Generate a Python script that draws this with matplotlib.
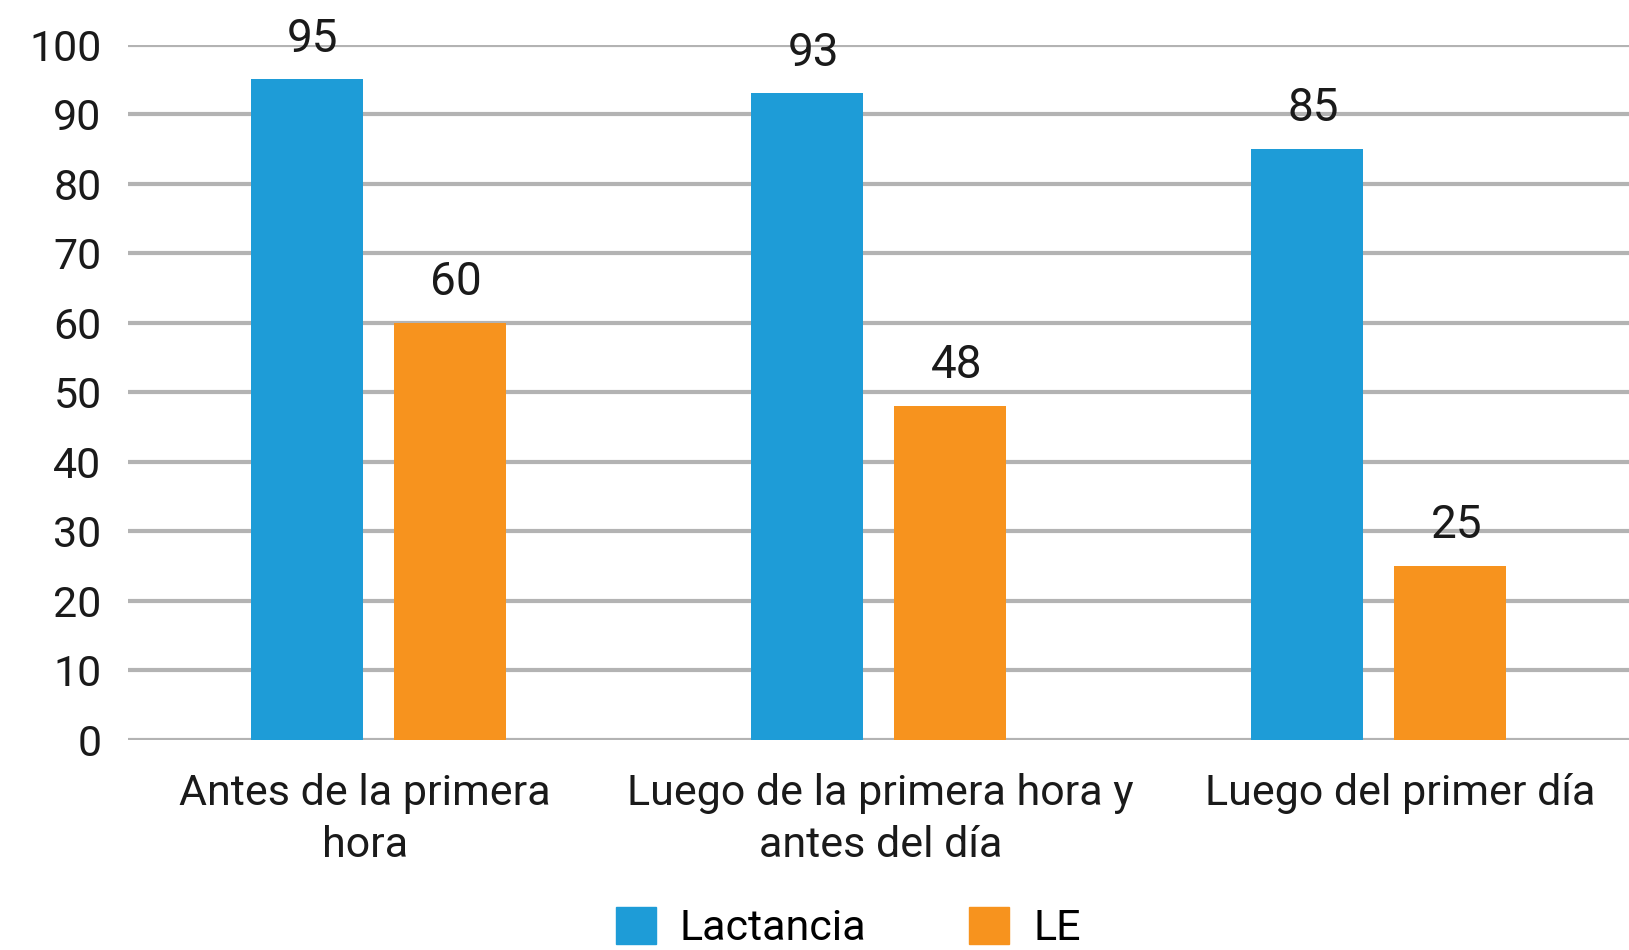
import matplotlib
matplotlib.use("Agg")
import matplotlib.pyplot as plt
import numpy as np
from matplotlib.patches import Patch
from matplotlib.transforms import ScaledTranslation

BLUE = "#1E9CD7"
ORANGE = "#F7931E"
GRID = "#B3B3B3"
INK = "#1a1a1a"

categories = ["Antes de la primera\nhora",
              "Luego de la primera hora y\nantes del día",
              "Luego del primer día"]
lactancia = [95, 93, 85]
le = [60, 48, 25]
series_names = ["Lactancia", "LE"]
yticks = list(range(0, 101, 10))

plt.rcParams["font.family"] = ["Roboto", "DejaVu Sans"]

fig = plt.figure(figsize=(16.29, 9.5), dpi=100)
ax = fig.add_axes([128 / 1629, 1 - 740 / 950, 1 - 128 / 1629, (740 - 44.7) / 950])

x = np.arange(len(categories))
w = 0.224
off = 0.143
b1 = ax.bar(x - off, lactancia, w, color=BLUE, zorder=3)
b2 = ax.bar(x + off, le, w, color=ORANGE, zorder=3)

# value labels sit a bit right of bar centre, like the source
for bars, vals in ((b1, lactancia), (b2, le)):
    for r, v in zip(bars, vals):
        ax.annotate(str(v), (r.get_x() + r.get_width() / 2, v),
                    xytext=(4.5, 20), textcoords="offset points",
                    ha="center", va="baseline", fontsize=33, color=INK,
                    clip_on=False)

ax.set_xlim(-0.5, 2.5)
ax.set_ylim(0, 100)
ax.set_yticks(yticks)
ax.yaxis.grid(True, color=GRID, linewidth=3.0, zorder=0)
ax.set_axisbelow(True)
for s in ax.spines.values():
    s.set_visible(False)
ax.tick_params(axis="both", length=0, colors=INK)
ax.tick_params(axis="y", pad=19, labelsize=31)
ax.tick_params(axis="x", pad=24, labelsize=31)
ax.set_xticks(x)
ax.set_xticklabels(categories, linespacing=1.33)

# nudge category labels sideways (pixels) to match the source wrapping
label_shift = [-13, 2, 21]
for lbl, dx in zip(ax.get_xticklabels(), label_shift):
    lbl.set_transform(lbl.get_transform() + ScaledTranslation(dx / 100, 0, fig.dpi_scale_trans))

handles = [Patch(color=BLUE), Patch(color=ORANGE)]
fig.legend(handles, series_names, loc="lower left", bbox_to_anchor=(577 / 1629, -0.04),
           ncol=2, frameon=False, fontsize=31, handlelength=0.93, handleheight=0.93,
           handletextpad=0.55, columnspacing=2.4)

fig.savefig("out.png", dpi=100, facecolor="white")
